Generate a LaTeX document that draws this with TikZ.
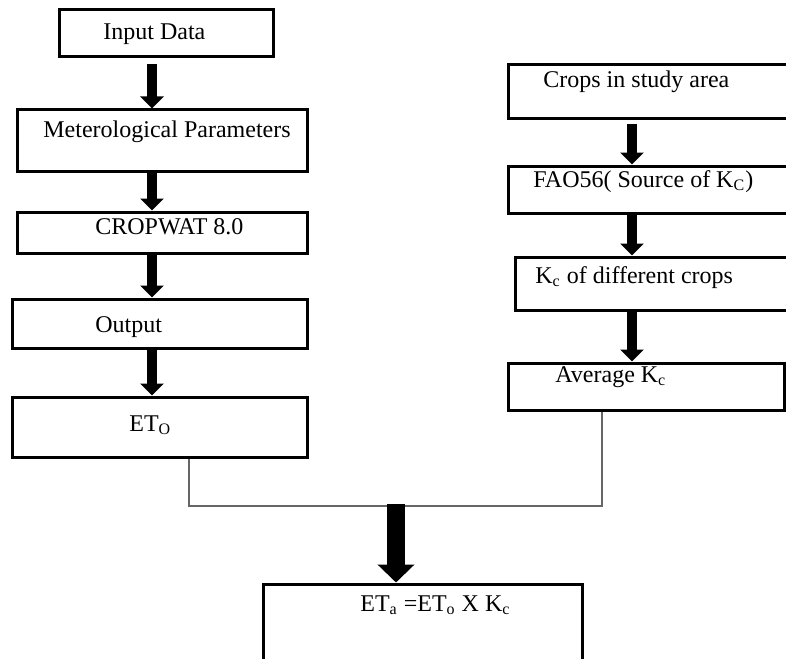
\documentclass[tikz,border=0pt]{standalone}
\usepackage{fontspec}
\setmainfont{Liberation Serif}
\usetikzlibrary{arrows.meta,fit}

\begin{document}
\begin{tikzpicture}[x=0.5pt,y=-0.5pt,
	box/.style={draw,line width=1.5pt,inner sep=0pt},
	lbl/.style={anchor=base west,inner sep=0pt,font=\fontsize{12}{14}\selectfont},
	flow/.style={line width=5.25pt,-{Triangle[width=11.5pt,length=6pt]}},
	bigflow/.style={line width=9.25pt,-{Triangle[width=18pt,length=9pt]}},
	link/.style={line width=0.6pt,gray!80!black}]
\useasboundingbox (0,0) rectangle (786,658);
\clip (0,0) rectangle (786,658);

% left column
\node[box,fit={(59,10) (273,57)}] (input) {};
\node[box,fit={(17,110) (307,171)}] (met) {};
\node[box,fit={(17,212) (307,253)}] (cropwat) {};
\node[box,fit={(12,299) (307,348)}] (output) {};
\node[box,fit={(12,397) (307,457)}] (eto) {};

\node[lbl] (input-t) at (103,40) {Input Data};
\node[lbl] (met-t) at (43,137) {Meterological Parameters};
\node[lbl] (cropwat-t) at (95,234) {CROPWAT 8.0};
\node[lbl] (output-t) at (95,332) {Output};
\node[lbl] (eto-t) at (129,431) {ET\textsubscript{O}};

% right column
\node[box,fit={(508,65) (795,118)}] (crops) {};
\node[box,fit={(508,166) (795,213)}] (fao) {};
\node[box,fit={(515,257) (795,310)}] (kc) {};
\node[box,fit={(508,363) (784,410)}] (avg) {};

\node[lbl] (crops-t) at (543,88) {Crops in study area};
\node[lbl] (fao-t) at (533,187) {FAO56( Source of K\textsubscript{C})};
\node[lbl] (kc-t) at (535,283) {K\textsubscript{c} of different crops};
\node[lbl] (avg-t) at (555,382) {Average K\textsubscript{c}};

% result
\node[box,fit={(263,584) (582,670)}] (eta) {};
\node[lbl] (eta-t) at (360,611) {ET\textsubscript{a} =ET\textsubscript{o} X K\textsubscript{c}};

\coordinate (lc) at (152,0);
\coordinate (rc) at (632,0);
\coordinate (jl) at (189,506);
\coordinate (jr) at (602,506);
\coordinate (jm) at (396,504);

\draw[flow,shorten <=3pt] (input.south -| lc) -- (met.north -| lc);
\draw[flow] (met.south -| lc) -- (cropwat.north -| lc);
\draw[flow] (cropwat.south -| lc) -- (output.north -| lc);
\draw[flow] (output.south -| lc) -- (eto.north -| lc);

\draw[flow,shorten <=2pt] (crops.south -| rc) -- (fao.north -| rc);
\draw[flow] (fao.south -| rc) -- (kc.north -| rc);
\draw[flow] (kc.south -| rc) -- (avg.north -| rc);

\draw[link] (eto.south -| jl) -- (jl) -- (jr) -- (avg.south -| jr);
\draw[bigflow] (jm) -- (eta.north -| jm);
\end{tikzpicture}
\end{document}
